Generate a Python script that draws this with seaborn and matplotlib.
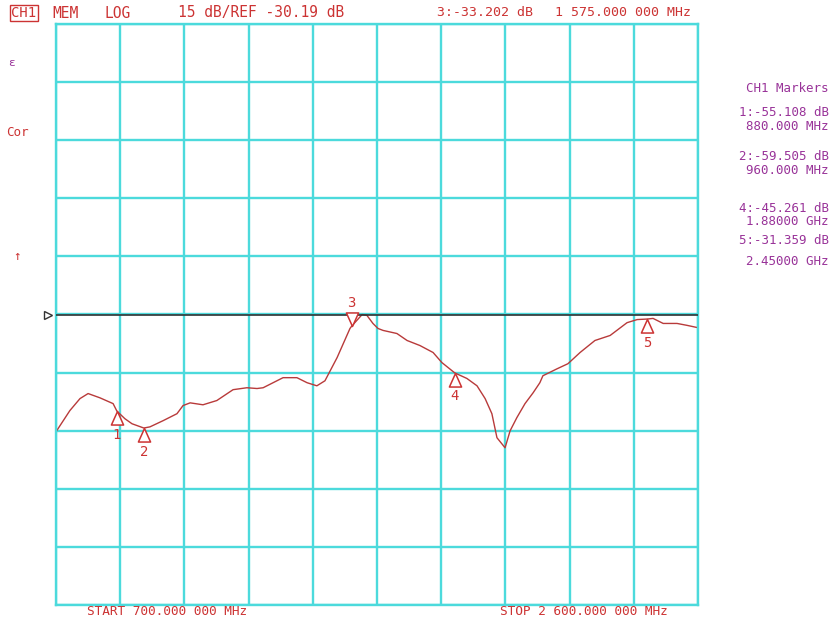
import numpy as np
import pandas as pd
import matplotlib
matplotlib.use("Agg")
import matplotlib.pyplot as plt
import seaborn as sns
from matplotlib.path import Path

# trace (MHz, dB)
freq_mhz = [702, 741, 771, 795, 830, 869, 880, 904, 925, 960, 978, 1017, 1058, 1076,
            1097, 1135, 1176, 1224, 1265, 1295, 1313, 1372, 1413, 1443, 1472, 1496,
            1532, 1570, 1575, 1606, 1620, 1638, 1653, 1668, 1709, 1739, 1777, 1816,
            1842, 1880, 1916, 1946, 1970, 1990, 2005, 2029, 2044, 2064, 2088, 2112,
            2132, 2141, 2183, 2215, 2251, 2295, 2340, 2390, 2420, 2450, 2467, 2497,
            2538, 2568, 2600]
trace_db = [-60.2, -55.0, -51.9, -50.6, -51.7, -53.2, -55.1, -57.1, -58.4, -59.5,
            -59.2, -57.6, -55.8, -53.7, -53.0, -53.5, -52.4, -49.6, -49.1, -49.3,
            -49.1, -46.5, -46.5, -47.8, -48.6, -47.3, -41.3, -33.8, -33.2, -30.2,
            -30.4, -32.5, -33.8, -34.3, -35.1, -36.9, -38.2, -40.0, -42.6, -45.26,
            -46.7, -48.6, -51.9, -55.8, -62.0, -64.6, -60.2, -56.8, -53.2, -50.4,
            -47.8, -46.0, -44.2, -42.9, -40.0, -36.9, -35.6, -32.3, -31.5, -31.36,
            -31.2, -32.5, -32.5, -33.0, -33.6]

marker_id = ["1", "2", "3", "4", "5"]
marker_freq = [880, 960, 1575, 1880, 2450]
marker_db = [-55.108, -59.505, -33.202, -45.261, -31.359]

start_mhz, stop_mhz = 700, 2600
ref_db = -30.19
db_per_div = 15

header_left = ["MEM", "LOG", "15 dB/REF -30.19 dB"]
header_right = ["3:-33.202 dB", "1 575.000 000 MHz"]
panel_lines = ["CH1 Markers", "1:-55.108 dB", "880.000 MHz", "2:-59.505 dB",
               "960.000 MHz", "4:-45.261 dB", "1.88000 GHz", "5:-31.359 dB",
               "2.45000 GHz"]
footer = ["START 700.000 000 MHz", "STOP 2 600.000 000 MHz"]

W, H = 833, 617
grid_c = "#4CDADC"
trace_c = "#B83A3A"
red_c = "#CC3333"
purple_c = "#993399"

sns.set_style("white")
plt.rcParams["font.family"] = ["DejaVu Sans Mono"]

fig = plt.figure(figsize=(W / 100, H / 100), dpi=100)
ax = fig.add_axes([56 / W, 1 - 605 / H, (698 - 56) / W, (605 - 24) / H])

df = pd.DataFrame({"freq": freq_mhz, "db": trace_db})
sns.lineplot(data=df, x="freq", y="db", ax=ax, color=trace_c, lw=1.0)

ax.set_xlim(start_mhz, stop_mhz)
ax.set_ylim(ref_db - 5 * db_per_div, ref_db + 5 * db_per_div)
ax.set_xticks(np.linspace(start_mhz, stop_mhz, 11))
ax.set_yticks(np.linspace(ref_db - 5 * db_per_div, ref_db + 5 * db_per_div, 11))
ax.grid(True, color=grid_c, lw=1.7)
ax.tick_params(length=0, labelbottom=False, labelleft=False)
ax.set_xlabel("")
ax.set_ylabel("")
for s in ax.spines.values():
    s.set_color(grid_c)
    s.set_linewidth(1.7)

# reference line + left pointer
ax.axhline(ref_db, color="#333333", lw=1.2, zorder=3)
ax.plot([-0.012], [ref_db], marker=">", ms=6, mfc="white", mec="#333333",
        transform=ax.get_yaxis_transform(), clip_on=False)

# markers: triangles with tip at the trace
up_tri = Path([(0, 0), (-0.45, -1), (0.45, -1), (0, 0)],
              [Path.MOVETO, Path.LINETO, Path.LINETO, Path.CLOSEPOLY])
down_tri = Path([(0, 0), (-0.45, 1), (0.45, 1), (0, 0)],
                [Path.MOVETO, Path.LINETO, Path.LINETO, Path.CLOSEPOLY])
for mid, f, d in zip(marker_id, marker_freq, marker_db):
    down = mid == "3"
    ax.scatter([f], [d], marker=down_tri if down else up_tri, s=380,
               facecolors="white", edgecolors=red_c, linewidths=1.1, zorder=4)
    ax.annotate(mid, (f, d), xytext=(0, 17 if down else -17), textcoords="offset points",
                ha="center", va="center", color=red_c, fontsize=10)


def ftext(x, y, s, **kw):
    fig.text(x / W, 1 - y / H, s, va="center", **kw)


# header
ftext(11, 13, "CH1", color=red_c, fontsize=10,
      bbox=dict(boxstyle="square,pad=0.1", fc="white", ec=red_c, lw=1))
for s, x in zip(header_left, [52, 105, 178]):
    ftext(x, 13, s, color=red_c, fontsize=10.5)
for s, x in zip(header_right, [437, 555]):
    ftext(x, 13, s, color=red_c, fontsize=9.5)

# left side bits
ftext(8, 63, "ε", color=purple_c, fontsize=8)
ftext(6, 132, "Cor", color=red_c, fontsize=9)
ftext(13, 256, "↑", color=red_c, fontsize=9)

# marker panel
panel_y = [89, 113, 126, 157, 170, 208, 221, 240, 262]
for s, y in zip(panel_lines, panel_y):
    ftext(829, y, s, color=purple_c, fontsize=9, ha="right")

# start / stop along the bottom edge
for s, x in zip(footer, [87, 500]):
    ftext(x, 611.5, s, color=red_c, fontsize=9.2)

fig.savefig("out.png", dpi=100, facecolor="white")
